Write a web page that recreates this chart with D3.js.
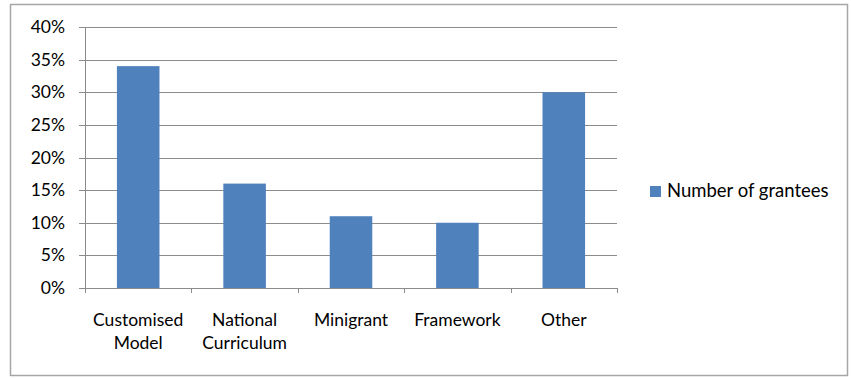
<!DOCTYPE html>
<html>
<head>
<meta charset="utf-8">
<script src="https://cdn.jsdelivr.net/npm/d3@7"></script>
<style>
  body { margin: 0; background: #fff; }
  text { font-family: Lato, "Open Sans", sans-serif; fill: #000; }
</style>
</head>
<body>
<div id="chart"></div>
<script>
const categories = [['Customised', 'Model'], ['National', 'Curriculum'], ['Minigrant'], ['Framework'], ['Other']];
const values = [0.34, 0.16, 0.11, 0.10, 0.30];
const yTicks = [0, 0.05, 0.10, 0.15, 0.20, 0.25, 0.30, 0.35, 0.40];
const seriesName = 'Number of grantees';

const svgWidth = 851;
const svgHeight = 378;
const margin = { top: 27, right: 234, bottom: 90, left: 85 };
const width = svgWidth - margin.left - margin.right;
const height = svgHeight - margin.top - margin.bottom;

const svg = d3.select('#chart')
    .append('svg')
    .attr('width', svgWidth)
    .attr('height', svgHeight);

// outer frame
svg.append('rect')
    .attr('x', 10.5).attr('y', 4.5)
    .attr('width', 837).attr('height', 371)
    .attr('fill', 'none')
    .attr('stroke', '#a6a6a6')
    .attr('stroke-width', 1.5);

const chartGroup = svg.append('g')
    .attr('transform', `translate(${margin.left}, ${margin.top})`);

const x = d3.scaleBand()
    .domain(d3.range(values.length))
    .range([0, width]);

const y = d3.scaleLinear()
    .domain([0, 0.4])
    .range([height, 0]);

// gridlines
chartGroup.append('g')
    .selectAll('line')
    .data(yTicks)
    .enter()
    .append('line')
    .attr('x1', -6)
    .attr('x2', width)
    .attr('y1', d => Math.round(y(d)) + 0.5)
    .attr('y2', d => Math.round(y(d)) + 0.5)
    .attr('stroke', '#8c8c8c')
    .attr('stroke-width', 1);

// y labels
chartGroup.append('g')
    .selectAll('text')
    .data(yTicks)
    .enter()
    .append('text')
    .attr('x', -20)
    .attr('y', d => y(d) + 6)
    .attr('text-anchor', 'end')
    .style('font-size', '17.5px')
    .text(d3.format('.0%'));

// y axis line
chartGroup.append('line')
    .attr('x1', 0.5).attr('x2', 0.5)
    .attr('y1', 0).attr('y2', height + 5)
    .attr('stroke', '#8c8c8c');

// category ticks
chartGroup.append('g')
    .selectAll('line')
    .data(d3.range(values.length + 1))
    .enter()
    .append('line')
    .attr('x1', d => Math.round(d * x.step()) + 0.5)
    .attr('x2', d => Math.round(d * x.step()) + 0.5)
    .attr('y1', height)
    .attr('y2', height + 5)
    .attr('stroke', '#8c8c8c');

// bars
const barW = x.bandwidth() * 0.4;
chartGroup.selectAll('.bar')
    .data(values)
    .enter()
    .append('rect')
    .classed('bar', true)
    .attr('x', (d, i) => x(i) + (x.bandwidth() - barW) / 2)
    .attr('y', d => y(d))
    .attr('width', barW)
    .attr('height', d => height - y(d))
    .attr('fill', '#4f81bd');

// category labels
const labels = chartGroup.selectAll('.cat')
    .data(categories)
    .enter()
    .append('text')
    .classed('cat', true)
    .attr('text-anchor', 'middle')
    .style('font-size', '17.5px')
    .attr('transform', (d, i) => `translate(${x(i) + x.bandwidth() / 2}, ${height + 38})`);

labels.selectAll('tspan')
    .data(d => d)
    .enter()
    .append('tspan')
    .attr('x', 0)
    .attr('dy', (d, i) => i === 0 ? 0 : 23)
    .text(d => d);

// legend
const legend = svg.append('g')
    .attr('transform', 'translate(650, 186)');
legend.append('rect')
    .attr('width', 11).attr('height', 11)
    .attr('fill', '#4f81bd');
legend.append('text')
    .attr('x', 17)
    .attr('y', 11)
    .style('font-size', '18.5px')
    .text(seriesName);
</script>
</body>
</html>
